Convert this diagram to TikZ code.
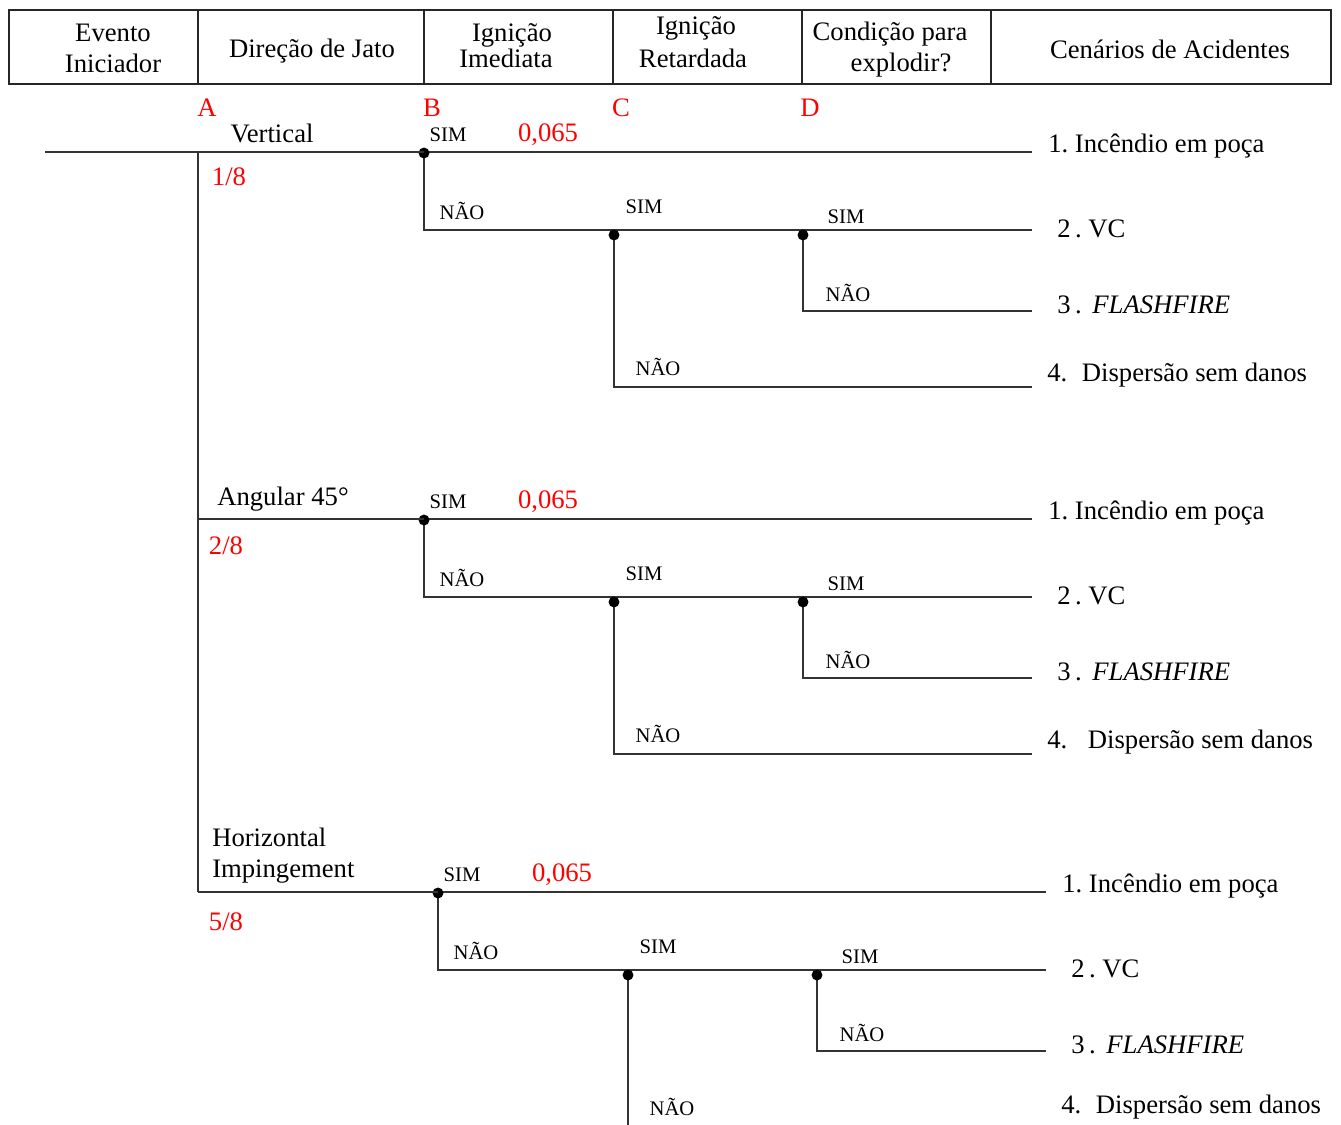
\documentclass[tikz,border=0pt]{standalone}
\usepackage{fontspec}
\setmainfont{Liberation Serif}
\tikzset{
  big/.style={font=\fontsize{20}{23}\selectfont, inner sep=0pt},
  small/.style={font=\fontsize{15.5}{18}\selectfont, inner sep=0pt},
  redlbl/.style={big, text=red},
  ln/.style={line width=0.8pt, draw=black!80},
  hdr/.style={line width=0.8pt, draw=black!85},
  jdot/.style={circle, fill=black, inner sep=0pt, minimum size=8.2pt},
  outc/.style={big, anchor=west}
}
\newcommand\evbranch[5]{%
\begin{scope}[shift={(#2,#3)}, name prefix=#1-]
  \coordinate (B) at (424,152);
  \coordinate (Bn) at (424,230);
  \coordinate (C) at (614,230);
  \coordinate (Cn) at (614,387);
  \coordinate (D) at (803,230);
  \coordinate (Dn) at (803,311);
  \coordinate (e1) at (1032,152);
  \coordinate (e2) at (1032,230);
  \coordinate (e3) at (1032,311);
  \coordinate (e4) at (1032,387);
  \draw[ln] (B) -- (e1);
  \draw[ln] (B) -- (Bn) -- (e2);
  \draw[ln] (C) -- (Cn) -- (e4);
  \draw[ln] (D) -- (Dn) -- (e3);
  \node[jdot] (Bdot) at (424,153) {};
  \node[jdot] (Cdot) at (614,235) {};
  \node[jdot] (Ddot) at (803,235) {};
  \node[small] (s1) at (448,135) {SIM};
  \node[redlbl] (p1) at (548,135) {0,065};
  \node[small] (n1) at (462,211) {NÃO};
  \node[small] (s2) at (644,207) {SIM};
  \node[small] (n2) at (658,367) {NÃO};
  \node[small] (s3) at (846,217) {SIM};
  \node[small] (n3) at (848,293) {NÃO};
  \node[outc] (o1) at (1048,146) {1.\ Incêndio em poça};
  \node[outc] (o2) at (1057,229) {2\,.\ VC};
  \node[outc] (o3) at (1057,305) {3\,.\ \hspace{3pt}\textit{FLASHFIRE}};
  \node[outc] (o4) at (1047,#5) {4.\ \hspace{#4}Dispersão sem danos};
\end{scope}}
\begin{document}
\begin{tikzpicture}[x=0.75pt, y=-0.75pt]
\useasboundingbox (0,0) rectangle (1341,1124);
% header
\draw[hdr] (9,10) rectangle (198,84);
\draw[hdr] (198,10) rectangle (424,84);
\draw[hdr] (424,10) rectangle (613,84);
\draw[hdr] (613,10) rectangle (802,84);
\draw[hdr] (802,10) rectangle (991,84);
\draw[hdr] (991,10) rectangle (1331,84);
\node[big, align=center] (h1) at (113,48.5) {Evento\\Iniciador};
\node[big] (h2) at (312,51) {Direção de Jato};
\node[big] (h3a) at (512,35) {Ignição};
\node[big] (h3b) at (506,58) {Imediata};
\node[big] (h4a) at (696,28) {Ignição};
\node[big] (h4b) at (693,58) {Retardada};
\node[big] (h5a) at (890,34) {Condição para};
\node[big] (h5b) at (901,65) {explodir?};
\node[big] (h6) at (1170,49) {Cenários de Acidentes};
% column letters
\node[redlbl] (lA) at (207,108) {A};
\node[redlbl] (lB) at (432,108) {B};
\node[redlbl] (lC) at (621,108) {C};
\node[redlbl] (lD) at (810,108) {D};
% A trunk
\coordinate (start) at (45,152);
\coordinate (A1) at (198,152);
\coordinate (A2) at (198,519);
\coordinate (A3) at (198,892);
\draw[ln] (start) -- (A1) -- (A3);
% branches
\evbranch{v}{0}{0}{6pt}{375}
\evbranch{g}{0}{367}{10.5pt}{375}
\evbranch{h}{14}{740}{6pt}{367}
\draw[ln] (A1) -- (v-B);
\draw[ln] (A2) -- (g-B);
\draw[ln] (A3) -- (h-B);
% direction labels
\node[big] (dv) at (272,133) {Vertical};
\node[redlbl] (fv) at (229,177) {1/8};
\node[big] (dg) at (283,499) {Angular 45°};
\node[redlbl] (fg) at (226,546) {2/8};
\node[big, align=left, anchor=west] (dh) at (212,855.5) {Horizontal\\Impingement};
\node[redlbl] (fh) at (226,922) {5/8};
\end{tikzpicture}
\end{document}
